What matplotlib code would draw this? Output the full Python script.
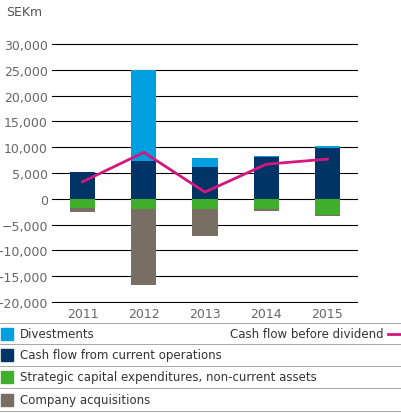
import matplotlib
matplotlib.use("Agg")
import matplotlib.pyplot as plt
from matplotlib.lines import Line2D
from matplotlib.patches import Rectangle

years = ["2011", "2012", "2013", "2014", "2015"]
cash_ops = [5200, 7300, 6200, 8100, 9800]
divest = [0, 17700, 1700, 200, 400]
capex = [-1700, -1900, -1900, -1900, -3100]
acq = [-900, -14800, -5300, -400, -200]
cf_before_div = [3300, 9000, 1300, 6700, 7700]

C_DIV = "#009fe0"; C_OPS = "#003466"; C_CAP = "#3fae2a"; C_ACQ = "#786e64"; C_LINE = "#d4177f"
fig = plt.figure(figsize=(4.02, 4.14), dpi=100)
ax = fig.add_axes([52/402, 1-304/414, 306/402, 260/414])
x = range(len(years))
w = 0.41
ax.bar(x, cash_ops, w, color=C_OPS, zorder=3)
ax.bar(x, divest, w, bottom=cash_ops, color=C_DIV, zorder=3)
ax.bar(x, capex, w, color=C_CAP, zorder=3)
ax.bar(x, acq, w, bottom=capex, color=C_ACQ, zorder=3)
ax.plot(x, cf_before_div, color=C_LINE, lw=2, zorder=4)
ax.set_xlim(-0.5, 4.5)
ax.set_ylim(-20200, 30200)
ax.set_yticks(range(-20000, 30001, 5000))
ax.set_yticklabels([f"{v:,}".replace("-", "\u2212") for v in range(-20000, 30001, 5000)])
ax.grid(axis="y", color="black", lw=0.8, zorder=0)
for s in ax.spines.values():
    s.set_visible(False)
ax.tick_params(length=0, labelsize=9, colors="#666666", pad=3)
ax.set_xticks(list(x)); ax.set_xticklabels(years)
fig.text(6/402, 1-12/414, "SEKm", fontsize=9, color="#555555", va="center")

labels = ["Divestments", "Cash flow from current operations",
          "Strategic capital expenditures, non-current assets", "Company acquisitions"]
cols = [C_DIV, C_OPS, C_CAP, C_ACQ]
rows = [335, 356, 378, 401]
for lab, c, yy in zip(labels, cols, rows):
    fig.patches.append(Rectangle((1/402, 1-(yy+6)/414), 12/402, 12/414, color=c, transform=fig.transFigure))
    fig.text(20/402, 1-yy/414, lab, fontsize=8.5, color="#333333", va="center")
for yy in [324, 345, 367, 389, 412]:
    fig.add_artist(Line2D([0, 1], [1-yy/414]*2, color="#999999", lw=0.6))
fig.text(384/402, 1-335/414, "Cash flow before dividend", fontsize=8.5, color="#333333", va="center", ha="right")
fig.add_artist(Line2D([388/402, 401/402], [1-335/414]*2, color=C_LINE, lw=2))
fig.savefig("out.png", dpi=100)
